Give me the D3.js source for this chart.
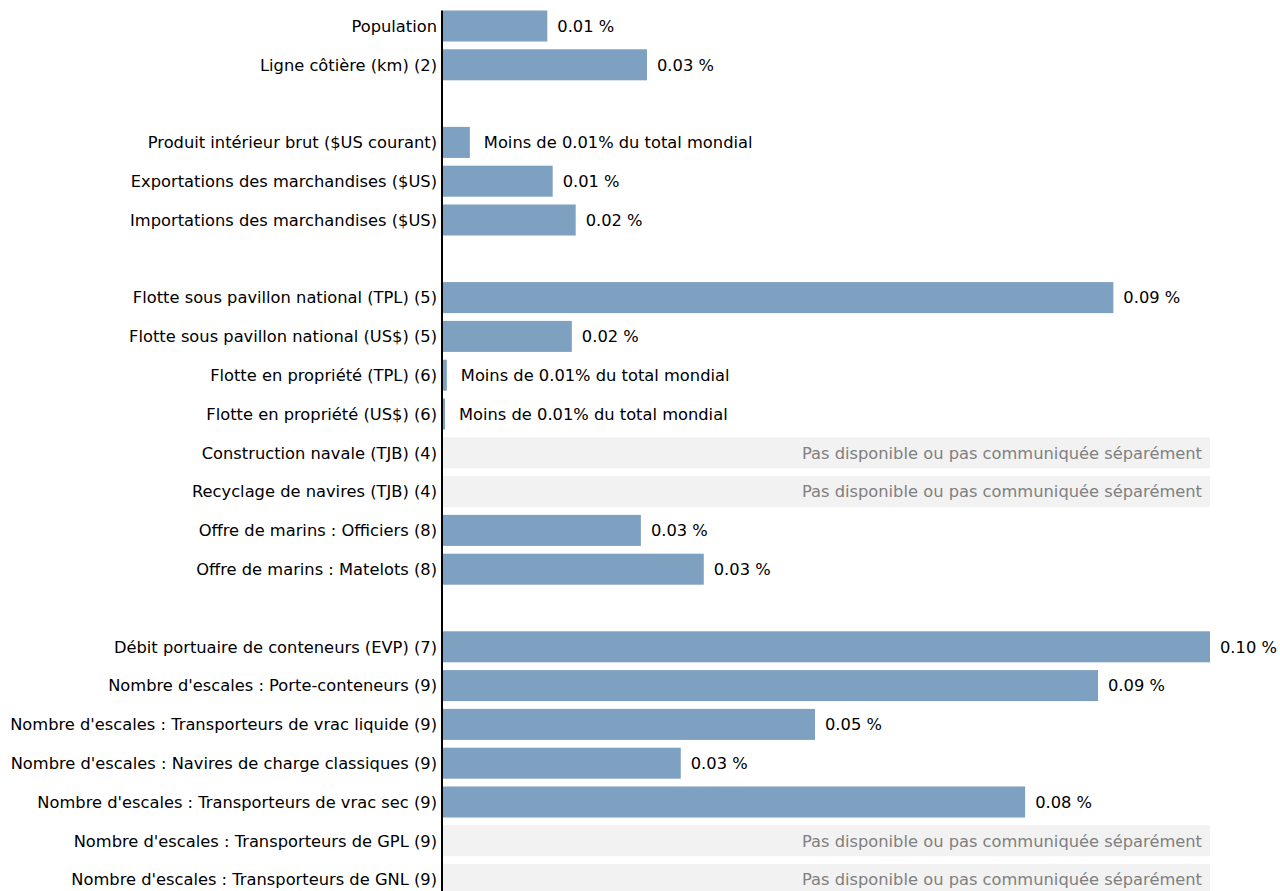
<!DOCTYPE html>
<html>
  <head>
    <meta charset="utf-8" />
    <title>Part du total mondial</title>
    <script src="https://d3js.org/d3.v7.min.js" charset="utf-8"></script>
    <style>
      body { margin: 0; background: #fff; }
      svg { display: block; font-family: "DejaVu Sans", Verdana, sans-serif; }
    </style>
  </head>
  <body>
    <svg id="canvas"></svg>
    <script>
      // rows, blank names = empty spacer slot between groups
      var categories = [
        "Population",
        "Ligne côtière (km) (2)",
        "",
        "Produit intérieur brut ($US courant)",
        "Exportations des marchandises ($US)",
        "Importations des marchandises ($US)",
        " ",
        "Flotte sous pavillon national (TPL) (5)",
        "Flotte sous pavillon national (US$) (5)",
        "Flotte en propriété (TPL) (6)",
        "Flotte en propriété (US$) (6)",
        "Construction navale (TJB) (4)",
        "Recyclage de navires (TJB) (4)",
        "Offre de marins : Officiers (8)",
        "Offre de marins : Matelots (8)",
        "  ",
        "Débit portuaire de conteneurs (EVP) (7)",
        "Nombre d'escales : Porte-conteneurs (9)",
        "Nombre d'escales : Transporteurs de vrac liquide (9)",
        "Nombre d'escales : Navires de charge classiques (9)",
        "Nombre d'escales : Transporteurs de vrac sec (9)",
        "Nombre d'escales : Transporteurs de GPL (9)",
        "Nombre d'escales : Transporteurs de GNL (9)"
      ];

      // share of world total, in %  (null = not available, undefined = spacer)
      var shares = [
        0.0136, 0.0266, undefined,
        0.0035, 0.0143, 0.0173, undefined,
        0.0874, 0.0168, 0.0005, 0.00026, null, null, 0.0258, 0.034, undefined,
        0.1, 0.0854, 0.0485, 0.031, 0.0759, null, null
      ];

      var smallLabel = "Moins de 0.01% du total mondial";
      var naLabel = "Pas disponible ou pas communiquée séparément";

      var width = 1280, height = 891;
      var fontSize = "16.3px";
      var canvas = d3.select("#canvas").attr("width", width).attr("height", height);

      var x = d3.scaleLinear().domain([0, 0.1]).range([443, 1210]);
      var y = d3.scaleBand()
        .domain(categories)
        .range([6.6, 6.6 + 38.8 * categories.length])
        .paddingInner(0.2)
        .paddingOuter(0.1);

      var rows = categories.map(function (c, i) {
        return { name: c, value: shares[i] };
      });

      // grey boxes for missing data
      canvas.selectAll("rect.na")
        .data(rows.filter(function (d) { return d.value === null; }))
        .enter()
        .append("rect")
        .attr("class", "na")
        .attr("x", x(0))
        .attr("y", function (d) { return y(d.name); })
        .attr("width", x(0.1) - x(0))
        .attr("height", y.bandwidth())
        .attr("fill", "#f2f2f2");

      canvas.selectAll("text.na")
        .data(rows.filter(function (d) { return d.value === null; }))
        .enter()
        .append("text")
        .attr("class", "na")
        .attr("x", x(0.1) - 8)
        .attr("y", function (d) { return y(d.name) + y.bandwidth() / 2; })
        .attr("dy", "0.35em")
        .attr("text-anchor", "end")
        .attr("fill", "#808080")
        .style("font-size", fontSize)
        .text(naLabel);

      var withData = rows.filter(function (d) { return d.value != null; });

      canvas.selectAll("rect.bar")
        .data(withData)
        .enter()
        .append("rect")
        .attr("class", "bar")
        .attr("x", x(0))
        .attr("y", function (d) { return y(d.name); })
        .attr("width", function (d) { return x(d.value) - x(0); })
        .attr("height", y.bandwidth())
        .attr("fill", "#7fa1c1");

      canvas.selectAll("text.val")
        .data(withData)
        .enter()
        .append("text")
        .attr("class", "val")
        .attr("x", function (d) { return x(d.value) + (d.value < 0.005 ? 14 : 10); })
        .attr("y", function (d) { return y(d.name) + y.bandwidth() / 2; })
        .attr("dy", "0.35em")
        .attr("fill", "#000")
        .style("font-size", fontSize)
        .text(function (d) {
          return d.value < 0.005 ? smallLabel : d.value.toFixed(2) + " %";
        });

      // category labels
      canvas.selectAll("text.cat")
        .data(rows.filter(function (d) { return d.value !== undefined; }))
        .enter()
        .append("text")
        .attr("class", "cat")
        .attr("x", 437)
        .attr("y", function (d) { return y(d.name) + y.bandwidth() / 2; })
        .attr("dy", "0.35em")
        .attr("text-anchor", "end")
        .attr("fill", "#000")
        .style("font-size", fontSize)
        .text(function (d) { return d.name; });

      // vertical axis line
      canvas.append("line")
        .attr("x1", 442).attr("x2", 442)
        .attr("y1", y(categories[0])).attr("y2", height)
        .attr("stroke", "#000")
        .attr("stroke-width", 2);
    </script>
  </body>
</html>
